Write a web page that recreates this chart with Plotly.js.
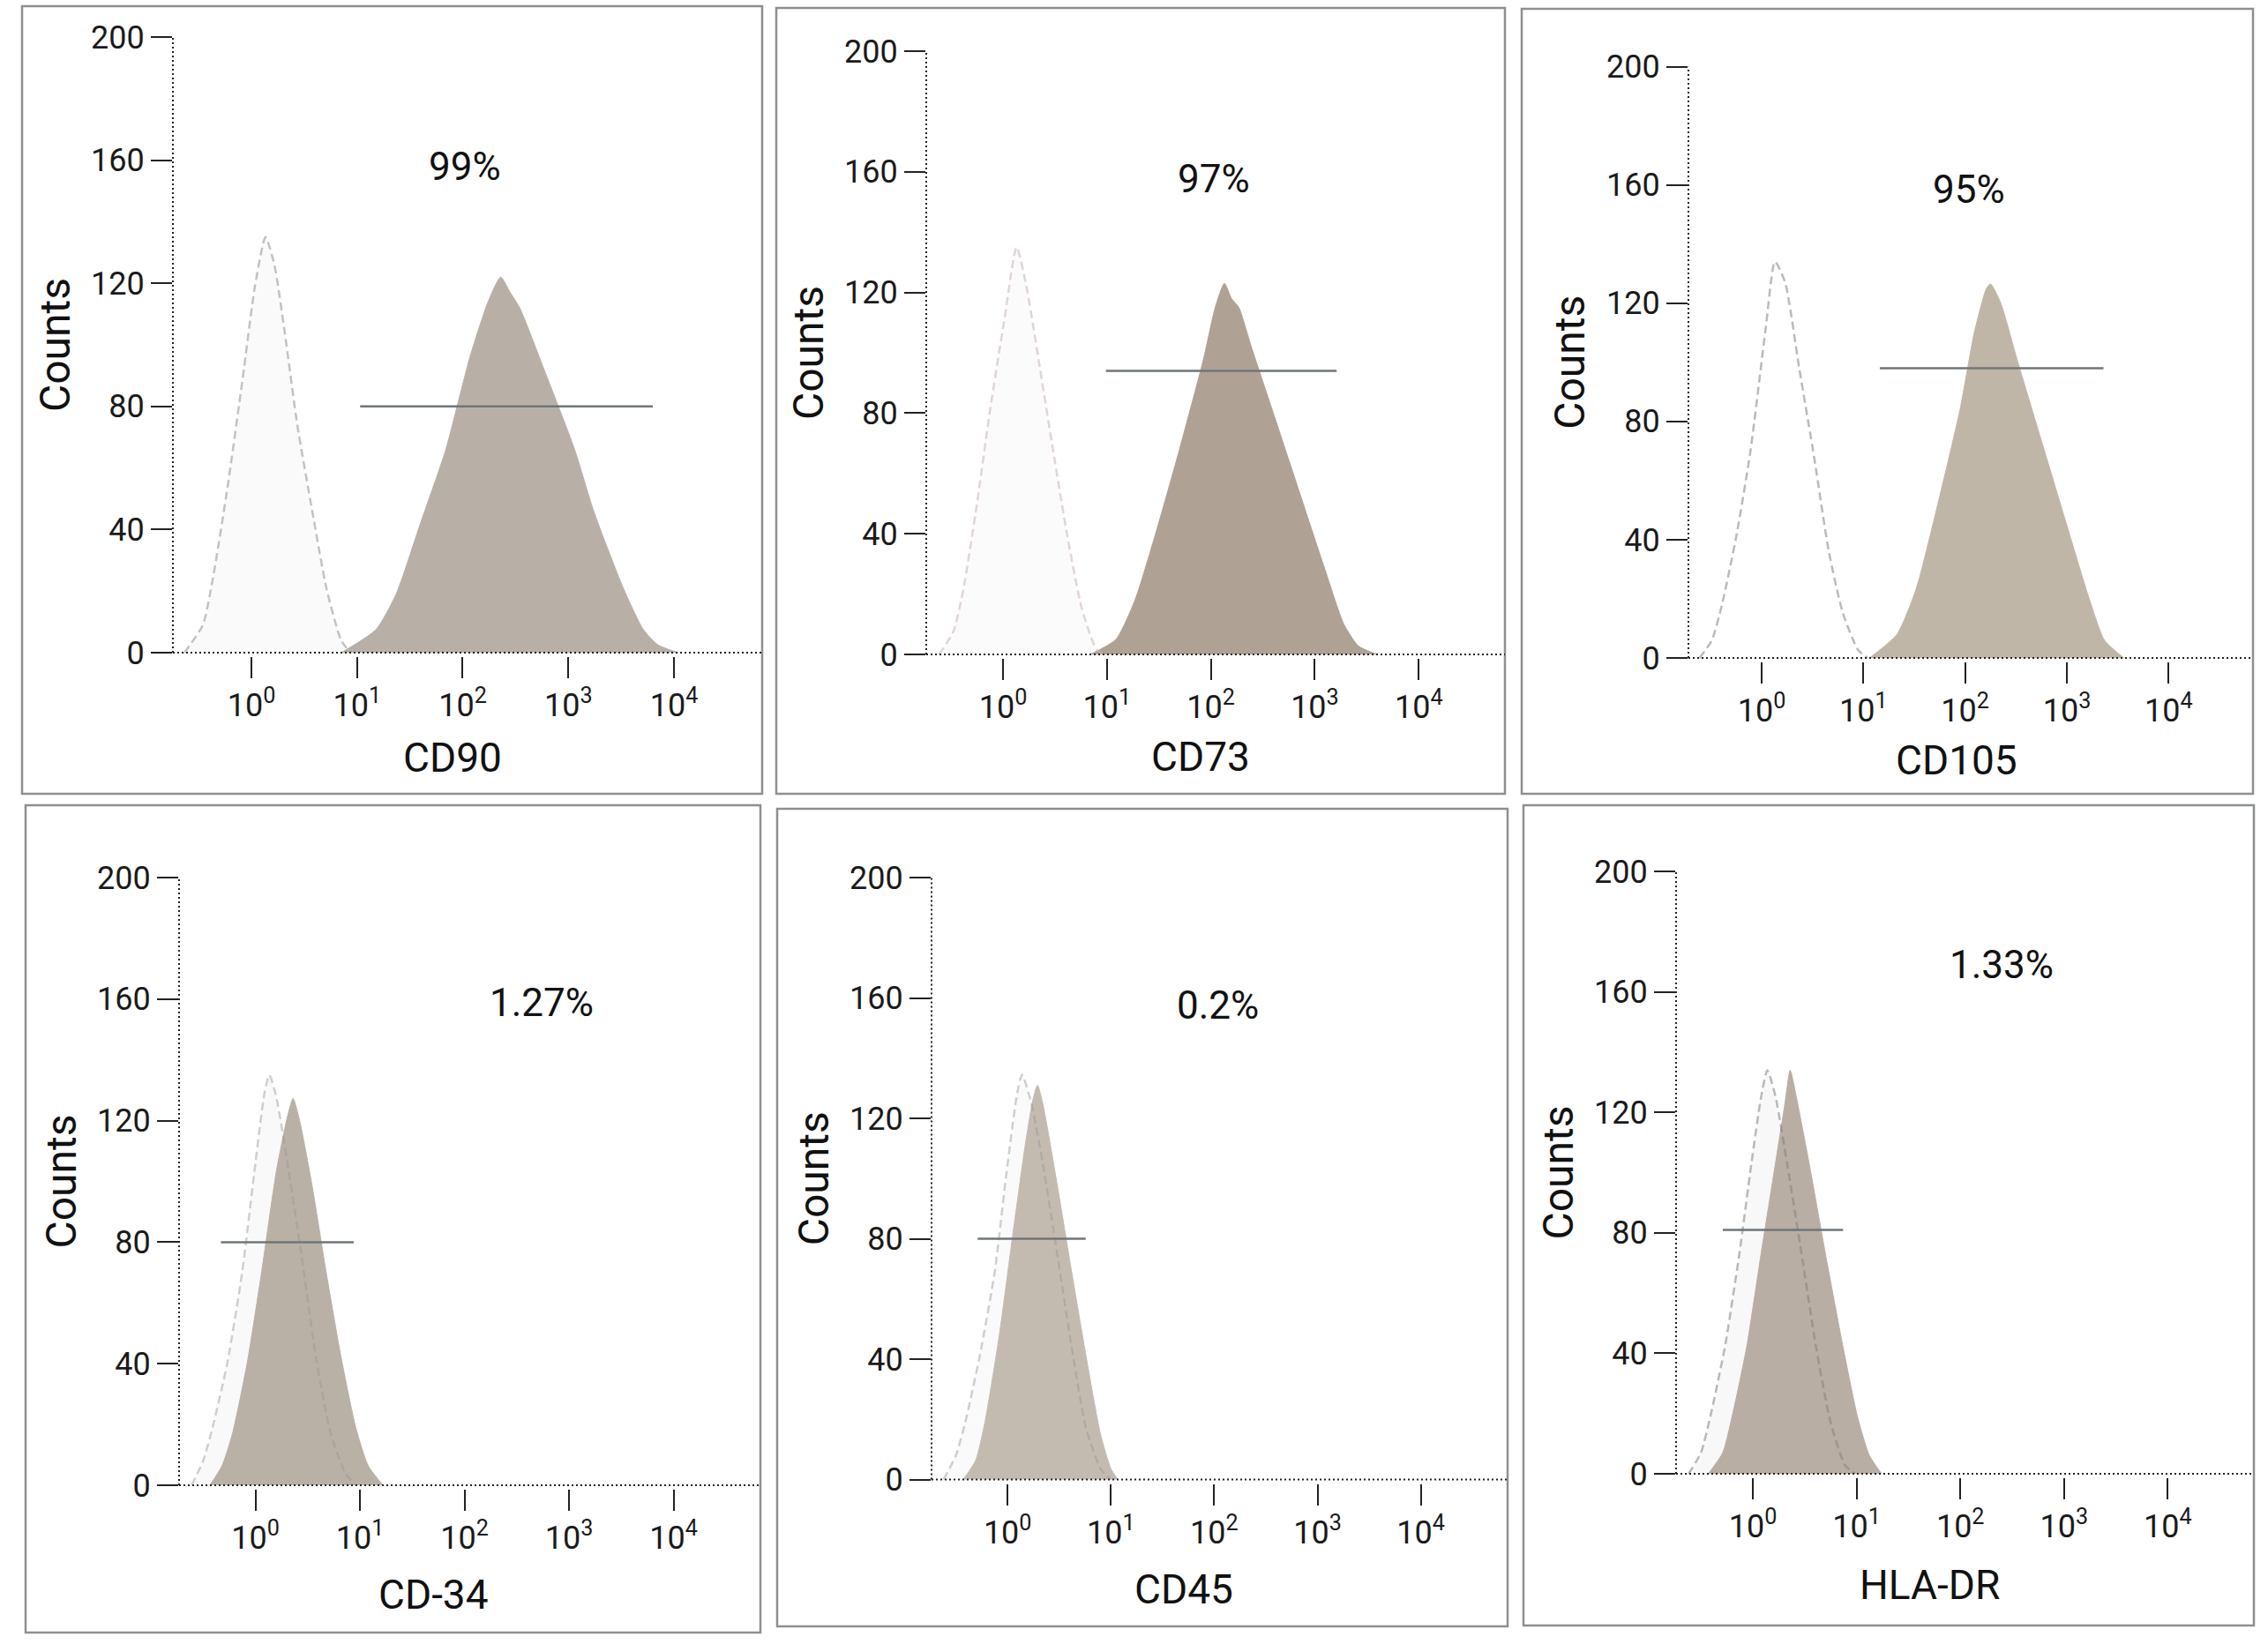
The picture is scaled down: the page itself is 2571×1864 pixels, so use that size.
<!DOCTYPE html>
<html>
<head>
<meta charset="utf-8">
<script src="https://cdn.plot.ly/plotly-3.0.1.min.js"></script>
<style>
  html, body { margin: 0; padding: 0; background: #fff; }
  #chart { width: 2571px; height: 1864px; }
</style>
</head>
<body>
<div id="chart"></div>
<script>
// marker panels (x = fluorescence intensity, y = counts)
const markers = ['CD90', 'CD73', 'CD105', 'CD-34', 'CD45', 'HLA-DR'];
const positivePct = ['99%', '97%', '95%', '1.27%', '0.2%', '1.33%'];

// gate bar: from / to intensity and its height in counts
const gateFrom = [10.7, 9.77, 14.5, 0.468, 0.513, 0.513];
const gateTo = [6310, 1622, 2291, 8.71, 5.70, 7.41];
const gateY = [80, 94, 98, 80, 80, 81];

// isotype control histograms (dashed)
const isoX_CD90 = [0.232, 0.347, 0.431, 0.596, 0.826, 1.08, 1.36, 1.65, 2.07, 2.72, 3.77, 5.13, 7.08, 8.71];
const isoY_CD90 = [0, 9, 24, 54, 89, 119, 135, 126, 104, 74, 46, 21, 4, 0];
const isoX_CD73 = [0.243, 0.336, 0.417, 0.545, 0.750, 1.04, 1.35, 1.68, 2.19, 3.02, 4.17, 5.75, 7.94, 9.33];
const isoY_CD73 = [0, 8, 22, 47, 81, 112, 135, 122, 98, 68, 39, 15, 1.5, 0];
const isoX_CD105 = [0.245, 0.324, 0.407, 0.562, 0.776, 1.10, 1.35, 1.70, 2.34, 3.31, 4.57, 6.31, 8.91, 11.0];
const isoY_CD105 = [0, 6, 18, 41, 70, 112, 134, 127, 98, 67, 36, 15, 2.6, 0];
const isoX_CD34 = [0.245, 0.316, 0.389, 0.537, 0.746, 1.00, 1.22, 1.36, 1.58, 2.09, 2.75, 3.80, 5.25, 7.24, 9.12];
const isoY_CD34 = [0, 8, 19, 40, 70, 106, 129, 135, 128, 103, 76, 42, 17, 4, 0];
const isoX_CD45 = [0.240, 0.316, 0.389, 0.537, 0.750, 0.977, 1.22, 1.38, 1.70, 2.19, 3.02, 4.17, 5.75, 7.94, 10.0];
const isoY_CD45 = [0, 8, 19, 41, 69, 102, 127, 134.5, 125, 105, 75, 44, 17, 3.6, 0];
const isoX_HLADR = [0.240, 0.316, 0.389, 0.537, 0.741, 0.968, 1.20, 1.38, 1.66, 2.14, 2.95, 4.07, 5.62, 7.76, 9.66];
const isoY_HLADR = [0, 7, 19, 42, 73, 103, 125, 134, 125, 103, 73, 42, 17, 2.8, 0];

// stained sample histograms (filled)
const stainX_CD90 = [7.08, 15.1, 23.4, 39.8, 69.2, 117, 174, 229, 282, 347, 589, 1148, 1738, 3311, 5129, 7079, 10965];
const stainY_CD90 = [0, 7.5, 19, 42, 66, 96, 114, 122, 117, 112, 92, 66, 46, 21, 7.5, 2.5, 0];
const stainX_CD73 = [6.92, 12.2, 18.6, 28.8, 49.0, 85.1, 110, 135, 158, 186, 245, 417, 708, 1230, 1905, 2630, 3981];
const stainY_CD73 = [0, 5, 18, 39, 67, 98, 115, 123, 118, 115, 102, 78, 54, 29, 10, 2.8, 0];
const stainX_CD105 = [11.5, 21.4, 33.1, 51.3, 89.1, 123, 162, 178, 224, 324, 562, 977, 1660, 2344, 3631];
const stainY_CD105 = [0, 8, 23.5, 49, 84, 110, 125, 126.5, 120, 101, 73.5, 46, 20, 6, 0];
const stainX_CD34 = [0.367, 0.479, 0.603, 0.832, 1.15, 1.58, 2.00, 2.29, 2.63, 3.47, 4.73, 6.61, 9.12, 12.0, 16.6];
const stainY_CD34 = [0, 6.4, 17, 40, 70.5, 103, 120.5, 127.3, 120.5, 99, 70.5, 42, 19, 6.4, 0];
const stainX_CD45 = [0.372, 0.490, 0.603, 0.832, 1.15, 1.51, 1.78, 1.95, 2.19, 3.02, 4.17, 5.75, 7.94, 10.0, 11.7];
const stainY_CD45 = [0, 6.3, 19, 48, 84, 113, 127, 131, 125, 98, 69, 41, 15, 3.6, 0];
const stainX_HLADR = [0.372, 0.513, 0.631, 0.871, 1.20, 1.66, 2.04, 2.29, 2.63, 3.47, 5.01, 7.41, 10.2, 13.2, 17.4];
const stainY_HLADR = [0, 7, 19, 42, 73, 103.5, 123, 134, 125, 103.5, 73, 42, 19, 6.3, 0];

const countTicks = [0, 40, 80, 120, 160, 200];
const decadeTicks = [1, 10, 100, 1000, 10000];
const decadeText = ['10<sup>0</sup>', '10<sup>1</sup>', '10<sup>2</sup>', '10<sup>3</sup>', '10<sup>4</sup>'];

const isoX = [isoX_CD90, isoX_CD73, isoX_CD105, isoX_CD34, isoX_CD45, isoX_HLADR];
const isoY = [isoY_CD90, isoY_CD73, isoY_CD105, isoY_CD34, isoY_CD45, isoY_HLADR];
const stainX = [stainX_CD90, stainX_CD73, stainX_CD105, stainX_CD34, stainX_CD45, stainX_HLADR];
const stainY = [stainY_CD90, stainY_CD73, stainY_CD105, stainY_CD34, stainY_CD45, stainY_HLADR];

// --- styling / layout (pixel geometry of the page) ---
const W = 2571;
const H = 1864;
const FONT = 'Roboto, "Noto Sans", sans-serif';

const panels = [
  {box: [25, 7, 864, 900], left: 196, right: 864, top: 42, zero: 740, xr: [-0.743, 4.835],
   title: [513, 859], pct: [527, 189]},
  {box: [880, 9, 1706, 900], left: 1050, right: 1706, top: 58, zero: 742, xr: [-0.739, 4.83],
   title: [1361, 858], pct: [1376, 203]},
  {box: [1725, 10, 2554, 900], left: 1914, right: 2554, top: 75.5, zero: 746, xr: [-0.72, 4.83],
   title: [2218, 862], pct: [2232, 215]},
  {box: [29, 913, 862, 1851], left: 203, right: 862, top: 995, zero: 1684, xr: [-0.73, 4.83],
   title: [491, 1808], pct: [614, 1137]},
  {box: [881, 917, 1709, 1844], left: 1056, right: 1709, top: 995, zero: 1677.5, xr: [-0.736, 4.84],
   title: [1342, 1802], pct: [1380, 1140]},
  {box: [1727, 913, 2555, 1843], left: 1900, right: 2555, top: 988, zero: 1671, xr: [-0.74, 4.83],
   title: [2187, 1797], pct: [2269, 1094]},
];

const isoLine = ['rgba(140,148,152,0.55)', 'rgba(200,180,180,0.55)', 'rgba(130,130,130,0.55)',
  'rgba(150,150,150,0.45)', 'rgba(150,150,150,0.45)', 'rgba(130,130,130,0.55)'];
const isoFill = ['#fafafa', '#fcfbfb', '#ffffff', '#f9f9f9', '#fafafa', '#f8f8f8'];
const stainFill = ['#b8b0a6', '#b0a195', '#c0b6a8', '#b9b1a6', '#c4bbb0', '#b8aea3'];
const GATE = '#6f7679';
const YMIN = -1.2;

const px = x => x / W;
const py = y => 1 - y / H;

const traces = [];
const layout = {
  width: W,
  height: H,
  margin: {l: 0, r: 0, t: 0, b: 0},
  paper_bgcolor: '#fff',
  plot_bgcolor: 'rgba(0,0,0,0)',
  showlegend: false,
  font: {family: FONT, color: '#1a1a1a'},
  shapes: [],
  annotations: [],
};

panels.forEach((p, i) => {
  const n = i === 0 ? '' : String(i + 1);
  const xa = 'x' + n;
  const ya = 'y' + n;
  const ppu = (p.zero - p.top) / 200;
  const bottom = p.zero - YMIN * ppu;

  layout['xaxis' + n] = {
    type: 'log',
    domain: [px(p.left), px(p.right)],
    range: p.xr,
    anchor: ya,
    tickvals: decadeTicks,
    ticktext: decadeText,
    ticks: 'outside',
    ticklen: 24,
    tickwidth: 2,
    tickcolor: '#222',
    tickfont: {size: 36, family: FONT, color: '#1a1a1a'},
    showline: false,
    showgrid: false,
    zeroline: false,
    fixedrange: true,
  };
  layout['yaxis' + n] = {
    domain: [py(bottom), py(p.top)],
    range: [YMIN, 200],
    anchor: xa,
    tickvals: countTicks,
    ticks: 'outside',
    ticklen: 24,
    tickwidth: 2,
    tickcolor: '#222',
    tickfont: {size: 36, family: FONT, color: '#1a1a1a'},
    showline: false,
    showgrid: false,
    zeroline: false,
    fixedrange: true,
  };

  // isotype fill, stained fill, then dashed isotype outline over both
  traces.push({
    type: 'scatter', mode: 'lines', xaxis: xa, yaxis: ya,
    x: isoX[i], y: isoY[i], fill: 'tozeroy', fillcolor: isoFill[i],
    line: {width: 0, shape: 'spline', smoothing: 0.6},
    hoverinfo: 'skip',
  });
  traces.push({
    type: 'scatter', mode: 'lines', xaxis: xa, yaxis: ya,
    x: stainX[i], y: stainY[i], fill: 'tozeroy', fillcolor: stainFill[i],
    line: {width: 1, color: stainFill[i], shape: 'spline', smoothing: 0.6},
    hoverinfo: 'skip',
  });
  traces.push({
    type: 'scatter', mode: 'lines', xaxis: xa, yaxis: ya,
    x: isoX[i], y: isoY[i],
    line: {width: 2.5, color: isoLine[i], dash: '9px,5px', shape: 'spline', smoothing: 0.6},
    hoverinfo: 'skip',
  });
  // gate marker
  traces.push({
    type: 'scatter', mode: 'lines', xaxis: xa, yaxis: ya,
    x: [gateFrom[i], gateTo[i]], y: [gateY[i], gateY[i]],
    line: {width: 2.5, color: GATE},
    hoverinfo: 'skip',
  });

  // panel frame
  layout.shapes.push({
    type: 'rect', xref: 'paper', yref: 'paper',
    x0: px(p.box[0]), x1: px(p.box[2]), y0: py(p.box[3]), y1: py(p.box[1]),
    line: {color: '#8c9092', width: 2.5}, fillcolor: 'rgba(0,0,0,0)', layer: 'below',
  });
  // dotted axes
  layout.shapes.push({
    type: 'line', xref: xa + ' domain', yref: ya,
    x0: 0, x1: 0, y0: 0, y1: 200,
    line: {color: '#222', width: 2, dash: '2px,3px'},
  });
  layout.shapes.push({
    type: 'line', xref: xa + ' domain', yref: ya,
    x0: 0, x1: 1, y0: 0, y1: 0,
    line: {color: '#222', width: 2, dash: '2px,3px'},
  });

  // texts
  layout.annotations.push({
    xref: 'paper', yref: 'paper', x: px(p.left - 134), y: py(p.zero - 100 * ppu),
    text: 'Counts', textangle: -90, showarrow: false,
    xanchor: 'center', yanchor: 'middle',
    font: {size: 48, family: FONT, color: '#111'},
  });
  layout.annotations.push({
    xref: 'paper', yref: 'paper', x: px(p.title[0]), y: py(p.title[1]),
    text: markers[i], showarrow: false, xanchor: 'center', yanchor: 'middle',
    font: {size: 46, family: FONT, color: '#111'},
  });
  layout.annotations.push({
    xref: 'paper', yref: 'paper', x: px(p.pct[0]), y: py(p.pct[1]),
    text: positivePct[i], showarrow: false, xanchor: 'center', yanchor: 'middle',
    font: {size: 44, family: FONT, color: '#111'},
  });
});

Plotly.newPlot('chart', traces, layout, {staticPlot: true, displayModeBar: false});
</script>
</body>
</html>
